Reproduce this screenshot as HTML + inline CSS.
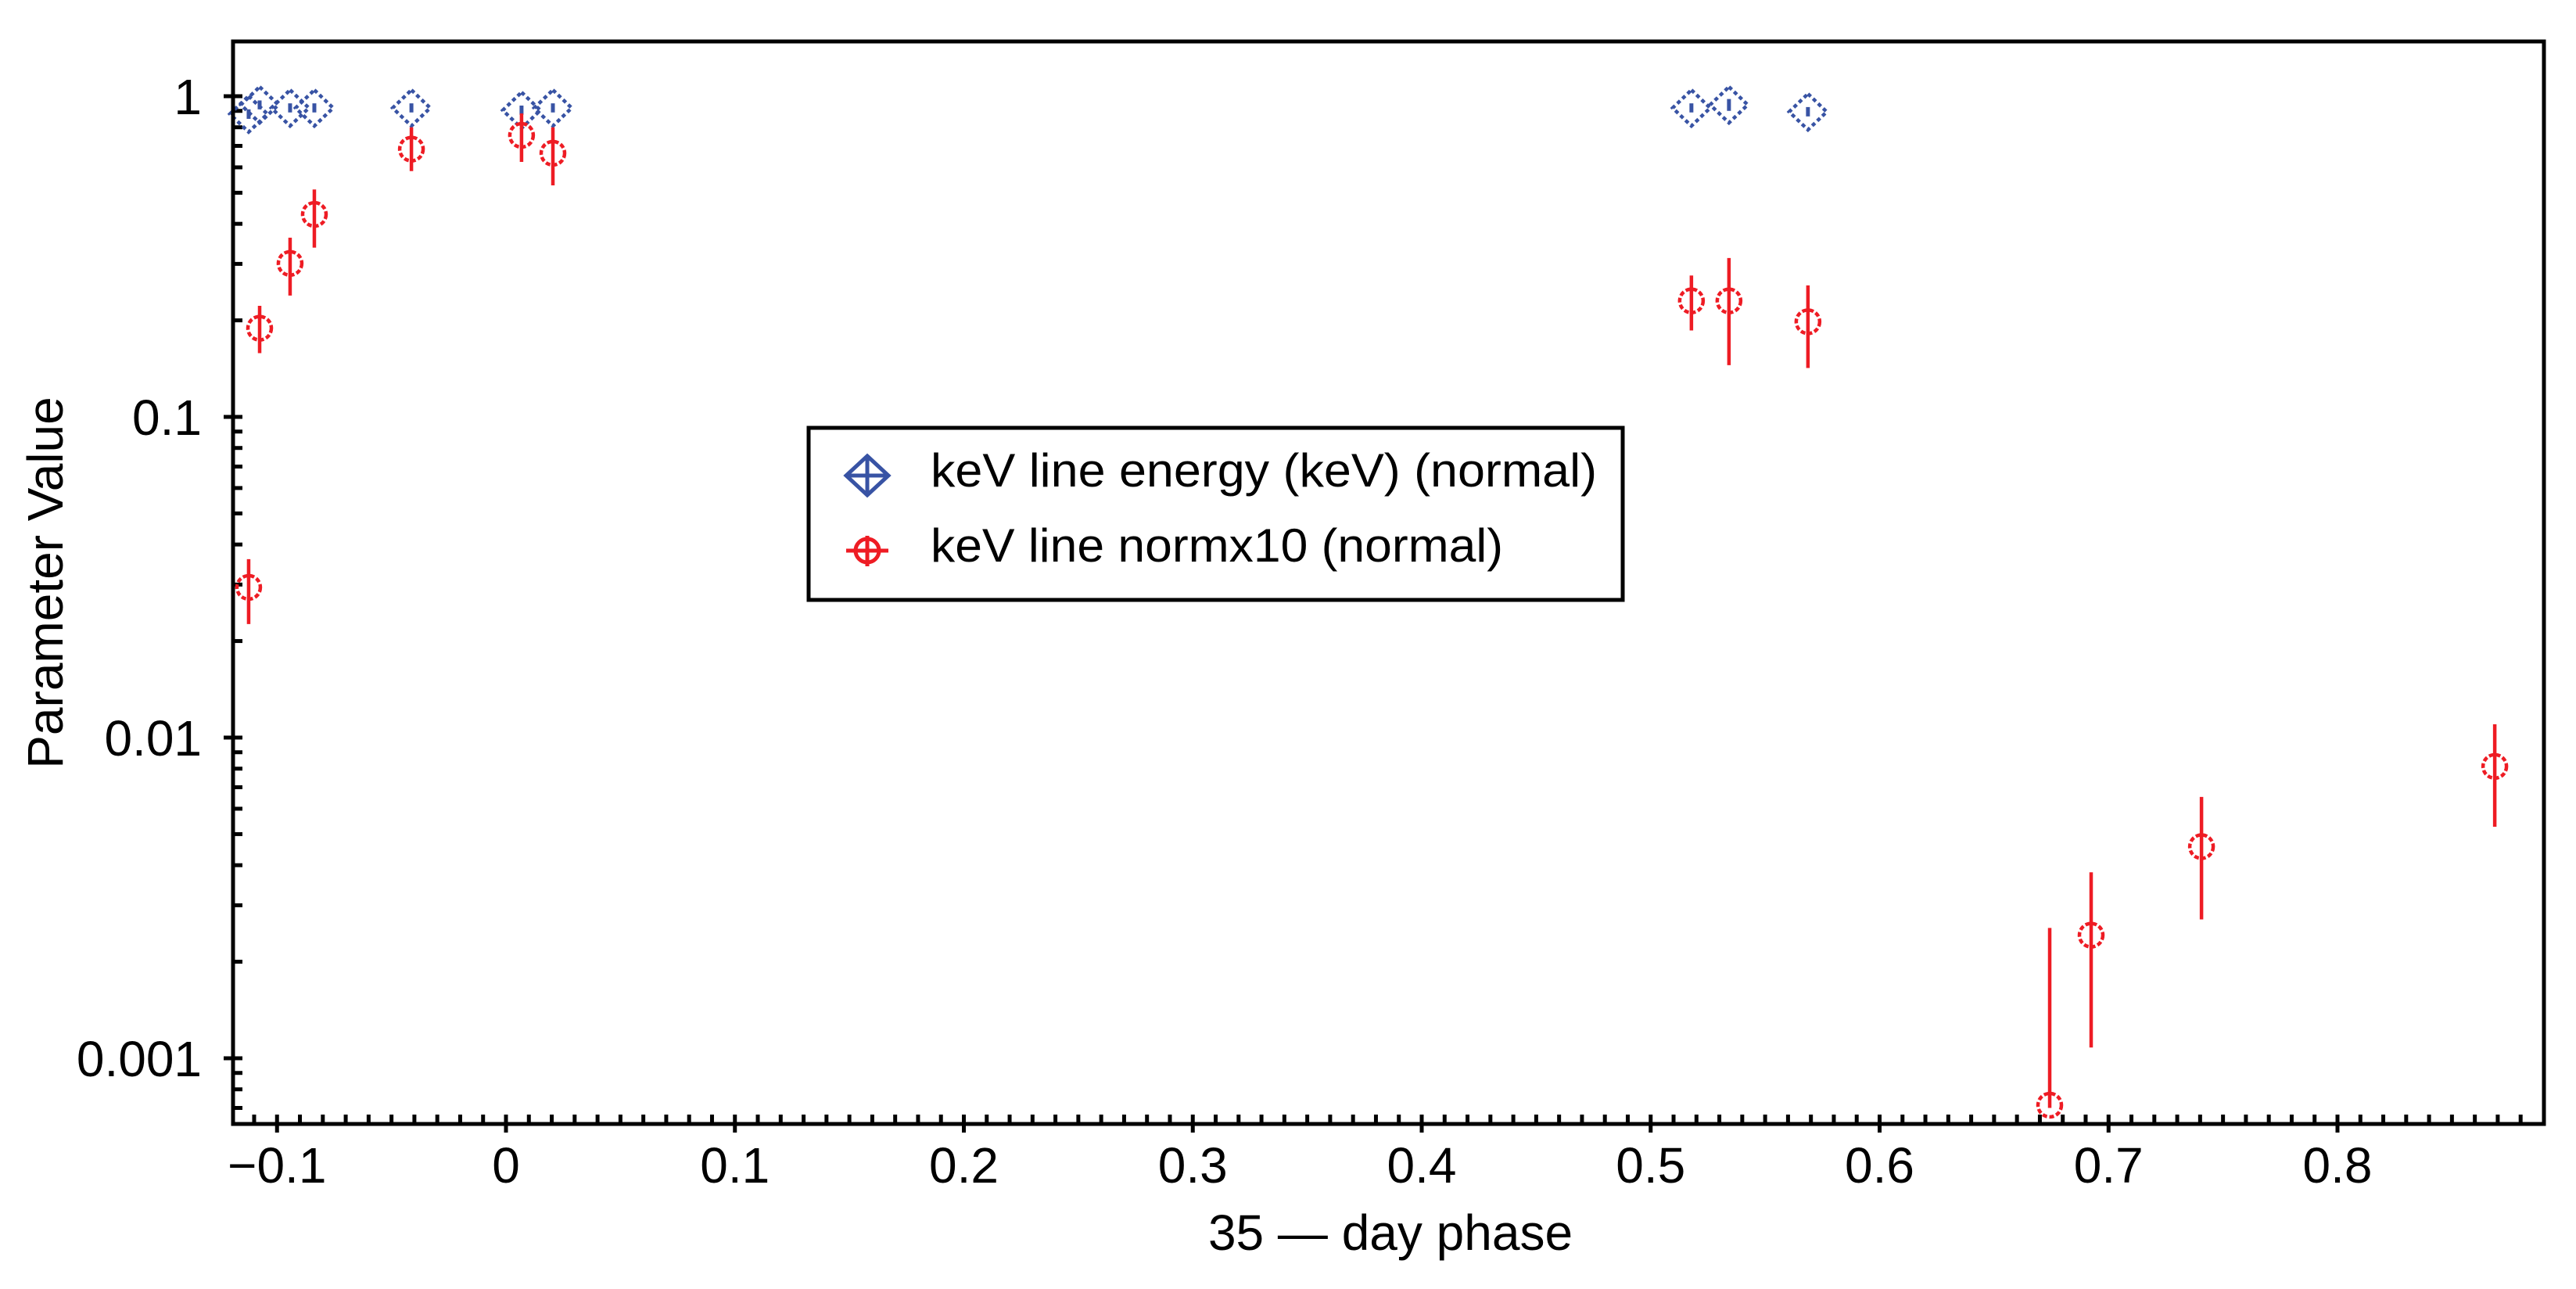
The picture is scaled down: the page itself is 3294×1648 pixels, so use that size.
<!DOCTYPE html>
<html><head><meta charset="utf-8"><style>
html,body{margin:0;padding:0;background:#fff}
svg{display:block}
text{font-family:"Liberation Sans",sans-serif;fill:#000}
</style></head><body>
<svg id="chart" width="3294" height="1648" viewBox="0 0 3294 1648" xmlns="http://www.w3.org/2000/svg">
<rect x="0" y="0" width="3294" height="1648" fill="#fff"/>
<g id="ticks"></g>
<g id="labels"></g>
<g id="marks"></g>
<rect x="298" y="53" width="2955" height="1384" fill="none" stroke="#000" stroke-width="5"/>
<text x="1778" y="1598" font-size="64" text-anchor="middle">35 — day phase</text>
<text transform="translate(80,745) rotate(-90)" font-size="64" text-anchor="middle">Parameter Value</text>
<g>
<rect x="1034" y="547" width="1041" height="220" fill="#fff" stroke="#000" stroke-width="5"/>
<g>
<path d="M1109 583 L1136 608 L1109 633 L1082 608 Z M1109 583 L1109 633 M1082 608 L1136 608" fill="none" stroke="#3853a4" stroke-width="5"/>
<text x="1190" y="622" font-size="60" textLength="852" lengthAdjust="spacingAndGlyphs">keV line energy (keV) (normal)</text>
</g>
<g>
<circle cx="1109" cy="704" r="15" fill="none" stroke="#ee1c24" stroke-width="5"/>
<path d="M1109 685 L1109 724 M1082 704 L1136 704" stroke="#ee1c24" stroke-width="5"/>
<text x="1190" y="718" font-size="60" textLength="732" lengthAdjust="spacingAndGlyphs">keV line normx10 (normal)</text>
</g>
</g>
</svg>
<script>
const blueX=[-0.1124,-0.1076,-0.0943,-0.0837,-0.0413,0.0068,0.0205,0.5178,0.5342,0.5687];
const blueY=[0.88,0.94,0.919,0.919,0.919,0.904,0.919,0.919,0.94,0.894];
const blueLo=[0.85,0.91,0.89,0.89,0.89,0.875,0.89,0.89,0.90,0.865];
const blueHi=[0.91,0.97,0.95,0.95,0.95,0.935,0.95,0.95,0.98,0.925];
const redX=[-0.1124,-0.1076,-0.0943,-0.0837,-0.0413,0.0068,0.0205,0.5178,0.5342,0.5687,0.6743,0.6924,0.7406,0.8687];
const redY=[0.0294,0.189,0.301,0.428,0.684,0.755,0.664,0.230,0.230,0.198,0.000714,0.00242,0.00457,0.00813];
const redHi=[0.036,0.222,0.362,0.512,0.80,0.884,0.80,0.276,0.313,0.257,0.00255,0.0038,0.00653,0.011];
const redLo=[0.0226,0.158,0.239,0.337,0.584,0.624,0.527,0.186,0.145,0.142,0.0007,0.00108,0.00271,0.00527];
const xTicks=[-0.1,0,0.1,0.2,0.3,0.4,0.5,0.6,0.7,0.8];
const xTickLabels=["−0.1","0","0.1","0.2","0.3","0.4","0.5","0.6","0.7","0.8"];
const yTicks=[1,0.1,0.01,0.001];
const yTickLabels=["1","0.1","0.01","0.001"];

const NS="http://www.w3.org/2000/svg";
const X0=298,X1=3253,Y0=53,Y1=1437;
function sx(v){return 647+(v-0)*2927.5;}
function sy(v){return 123-Math.log10(v)*410;}
function mk(tag,attrs,parent){const e=document.createElementNS(NS,tag);for(const k in attrs)e.setAttribute(k,attrs[k]);parent.appendChild(e);return e;}
const ticks=document.getElementById('ticks'),labels=document.getElementById('labels'),marks=document.getElementById('marks');

for(let i=-12;i<=89;i++){const v=i/100;const x=sx(v);if(x<X0+3||x>X1-3)continue;
 const major=(i%10===0);
 const t=mk('line',{x1:x,x2:x,y1:major?1448:1437,y2:1425,stroke:'#000','stroke-width':5},ticks);
 
 }
xTicks.forEach((v,i)=>{const t=mk('text',{x:sx(v),y:1512,'font-size':64,'text-anchor':'middle'},labels);t.textContent=xTickLabels[i];
 
 });
for(let d=-4;d<=0;d++){for(let m=1;m<=9;m++){const v=m*Math.pow(10,d);const y=sy(v);if(y<Y0+3||y>Y1-3)continue;
 const major=(m===1);
 const t=mk('line',{x1:major?286:298,x2:310,y1:y,y2:y,stroke:'#000','stroke-width':5},ticks);
 
 }}
yTicks.forEach((v,i)=>{const t=mk('text',{x:258,y:sy(v)+23,'font-size':64,'text-anchor':'end'},labels);t.textContent=yTickLabels[i];
 
 });

blueX.forEach((v,i)=>{const x=sx(v),y=sy(blueY[i]);
 const g=mk('g',{},marks);
 
 
 mk('path',{d:`M${x} ${y-23} L${x+24} ${y} L${x} ${y+23} L${x-24} ${y} Z`,fill:'none',stroke:'#3853a4','stroke-width':4.5,'stroke-dasharray':'5 4'},g);
 mk('line',{x1:x,x2:x,y1:sy(blueHi[i]),y2:sy(blueLo[i]),stroke:'#3853a4','stroke-width':5},g);});
redX.forEach((v,i)=>{const x=sx(v),y=sy(redY[i]);
 const g=mk('g',{},marks);
 
 
 mk('circle',{cx:x,cy:y,r:15,fill:'none',stroke:'#ee1c24','stroke-width':4.5,'stroke-dasharray':'6 3'},g);
 mk('line',{x1:x,x2:x,y1:sy(redHi[i]),y2:sy(redLo[i]),stroke:'#ee1c24','stroke-width':4.5},g);});
</script>
</body></html>
